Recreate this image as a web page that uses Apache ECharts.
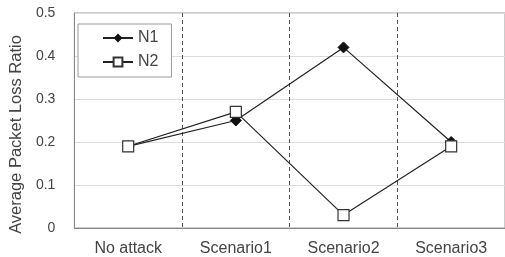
<!DOCTYPE html>
<html>
<head>
<meta charset="utf-8">
<script src="https://cdn.jsdelivr.net/npm/echarts@6/dist/echarts.min.js"></script>
<style>
  html, body { margin: 0; padding: 0; background: #fff; }
  #chart { width: 505px; height: 257px; }
</style>
</head>
<body>
<div id="chart"></div>
<script>
// Chart data
var categories = ['No attack', 'Scenario1', 'Scenario2', 'Scenario3'];
var n1Values = [0.19, 0.25, 0.42, 0.20];
var n2Values = [0.19, 0.27, 0.03, 0.19];

var chart = echarts.init(document.getElementById('chart'));

var option = {
    animation: false,
    textStyle: {
        fontFamily: 'Liberation Sans, Arial, sans-serif'
    },
    grid: {
        left: 70,
        top: 13,
        width: 438,
        height: 215,
        show: true,
        borderColor: '#999',
        borderWidth: 1
    },
    legend: {
        orient: 'vertical',
        left: 78,
        top: 24,
        padding: [6, 13, 7, 24],
        borderColor: '#999',
        borderWidth: 1,
        backgroundColor: '#fff',
        itemWidth: 30,
        itemHeight: 11,
        itemGap: 8,
        textStyle: { fontSize: 16, color: '#444' },
        data: ['N1', 'N2']
    },
    xAxis: {
        type: 'category',
        data: categories,
        boundaryGap: true,
        axisLine: { lineStyle: { color: '#888' } },
        axisTick: { show: false },
        axisLabel: { fontSize: 16, color: '#444', margin: 13, interval: 0 },
        splitLine: {
            show: true,
            interval: 0,
            lineStyle: { color: '#555', type: [4, 3], width: 1 }
        }
    },
    yAxis: {
        type: 'value',
        min: 0,
        max: 0.5,
        interval: 0.1,
        name: 'Average Packet Loss Ratio',
        nameLocation: 'middle',
        nameGap: 46,
        nameTextStyle: { fontSize: 16.5, color: '#444', padding: [0, 28, 0, 0] },
        axisLine: { show: true, lineStyle: { color: '#888' } },
        axisTick: { show: false },
        axisLabel: {
            fontSize: 14,
            fontFamily: 'Liberation Sans Narrow, Liberation Sans, sans-serif',
            color: '#444',
            margin: 19,
            formatter: function (v) { return v === 0 ? '0' : v.toFixed(1); }
        },
        splitLine: { lineStyle: { color: '#ddd', width: 1 } }
    },
    series: [
        {
            name: 'N1',
            type: 'line',
            data: n1Values,
            symbol: 'diamond',
            symbolSize: 11,
            lineStyle: { color: '#222', width: 1.2 },
            itemStyle: { color: '#111', borderColor: '#111' }
        },
        {
            name: 'N2',
            type: 'line',
            data: n2Values,
            symbol: 'rect',
            symbolSize: 11,
            lineStyle: { color: '#222', width: 1.2 },
            itemStyle: { color: '#fff', borderColor: '#333', borderWidth: 1.2 }
        }
    ]
};

chart.setOption(option);
</script>
</body>
</html>
